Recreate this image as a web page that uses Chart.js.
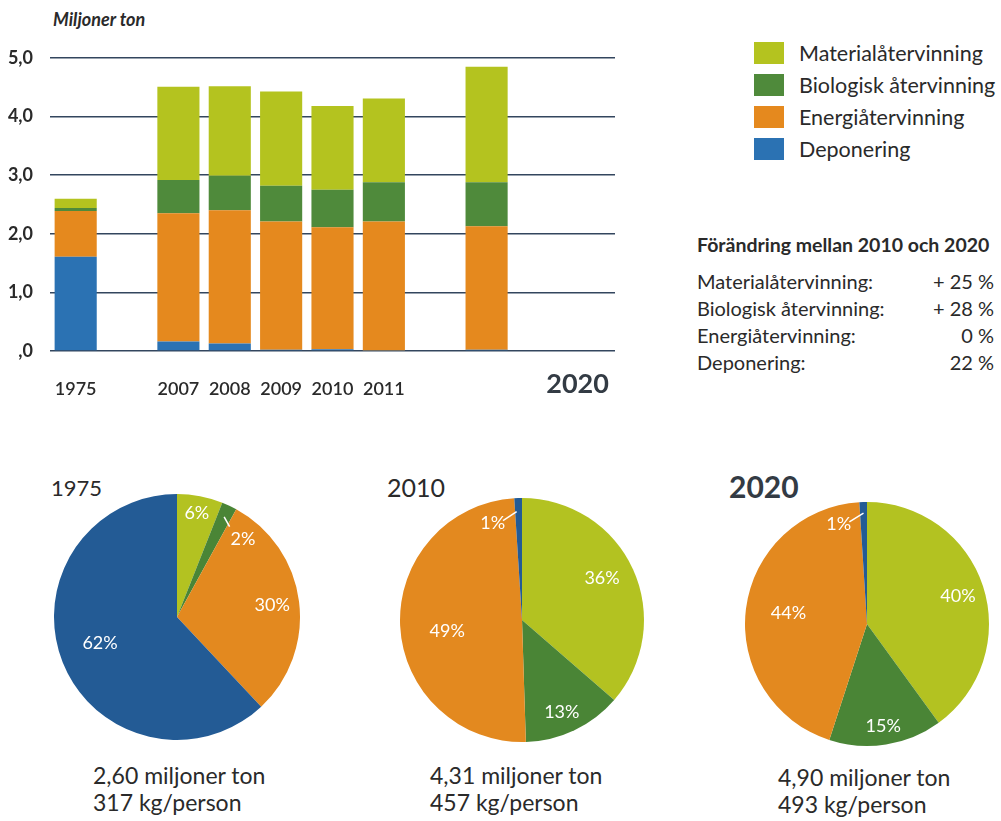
<!DOCTYPE html>
<html>
<head>
<meta charset="utf-8">
<script src="https://cdn.jsdelivr.net/npm/chart.js@4.4.1/dist/chart.umd.min.js"></script>
<style>
  body { margin: 0; background: #fff; font-family: Lato, sans-serif; color: #2a2a2a; }
  #page { position: relative; width: 1001px; height: 821px; overflow: hidden; }
  .abs { position: absolute; }
  #unit { left: 53px; top: 8px; font-size: 18px; font-weight: bold; font-style: italic; }
  #legend { left: 754px; top: 37px; }
  .leg-row { display: flex; align-items: center; height: 32px; }
  .leg-box { width: 30px; height: 22px; margin-right: 15px; }
  .leg-row span { font-size: 21.5px; }
  #change { left: 697px; top: 233px; width: 297px; }
  #change .head { font-size: 19.5px; font-weight: bold; height: 36px; }
  #change .row { display: flex; justify-content: space-between; font-size: 20px; height: 27px; }
  .pie-title { font-size: 22px; }
  .caption { font-size: 23px; line-height: 27px; }
</style>
</head>
<body>
<div id="page">
  <div id="unit" class="abs">Miljoner ton</div>
  <div class="abs" style="left:0; top:0; width:640px; height:412px;"><canvas id="barChart"></canvas></div>
  <div id="legend" class="abs"></div>
  <div id="change" class="abs"></div>

  <div class="abs pie-title" style="left:51px; top:474px;">1975</div>
  <div class="abs pie-title" style="left:387px; top:472px; font-size:25px;">2010</div>
  <div class="abs pie-title" style="left:729px; top:468px; font-size:30px; font-weight:bold; color:#333b44;">2020</div>
  <div class="abs" style="left:52px; top:492px; width:250px; height:250px;"><canvas id="pie1975"></canvas></div>
  <div class="abs" style="left:397px; top:495px; width:250px; height:250px;"><canvas id="pie2010"></canvas></div>
  <div class="abs" style="left:742px; top:499px; width:250px; height:250px;"><canvas id="pie2020"></canvas></div>

  <div class="abs caption" id="cap0" style="left:93px; top:762px;"></div>
  <div class="abs caption" id="cap1" style="left:430px; top:762px;"></div>
  <div class="abs caption" id="cap2" style="left:778px; top:764px;"></div>
</div>

<script>
// stapeldiagram: miljoner ton per behandlingsmetod
const years = ['1975', '', '2007', '2008', '2009', '2010', '2011', '', '2020', '', ''];
const seriesNames = ['Materialåtervinning', 'Biologisk återvinning', 'Energiåtervinning', 'Deponering'];
const material   = [0.16, null, 1.59, 1.53, 1.61, 1.43, 1.43, null, 1.97, null, null];
const biologisk  = [0.05, null, 0.57, 0.59, 0.61, 0.64, 0.67, null, 0.75, null, null];
const energi     = [0.78, null, 2.19, 2.27, 2.19, 2.08, 2.20, null, 2.11, null, null];
const deponering = [1.61, null, 0.16, 0.13, 0.02, 0.03, 0.01, null, 0.02, null, null];
const yTicks = [0, 1, 2, 3, 4, 5];

// cirkeldiagram (procent)
const pieYears = ['1975', '2010', '2020'];
const pie1975 = [6, 2, 30, 62];
const pie2010 = [36, 13, 49, 1];
const pie2020 = [40, 15, 44, 1];
const totals = ['2,60 miljoner ton', '4,31 miljoner ton', '4,90 miljoner ton'];
const perPerson = ['317 kg/person', '457 kg/person', '493 kg/person'];

// förändring 2010-2020
const changeTitle = 'Förändring mellan 2010 och 2020';
const changeValues = ['+ 25 %', '+ 28 %', '0 %', '22 %'];

const barColors = ['#b4c31f', '#4f8a3b', '#e5891e', '#2b72b3'];
const pieColors = ['#b3c221', '#4a8536', '#e3891f', '#235b95'];
const forecastIndex = 8;

// legend + tabell
let legendHtml = '';
seriesNames.forEach((name, i) => {
    legendHtml += '<div class="leg-row"><div class="leg-box" style="background:' + barColors[i] + '"></div><span>' + name + '</span></div>';
});
document.getElementById('legend').innerHTML = legendHtml;

let changeHtml = '<div class="head">' + changeTitle + '</div>';
seriesNames.forEach((name, i) => {
    changeHtml += '<div class="row"><span>' + name + ':</span><span>' + changeValues[i] + '</span></div>';
});
document.getElementById('change').innerHTML = changeHtml;

totals.forEach((t, i) => {
    document.getElementById('cap' + i).innerHTML = t + '<br>' + perPerson[i];
});

Chart.defaults.font.family = 'Lato, sans-serif';
Chart.defaults.color = '#2a2a2a';

// prognosåret (2020) skrivs större och till höger om stapeln
const forecastLabel = {
    id: 'forecastLabel',
    afterDraw(chart) {
        const x = chart.scales.x;
        const ctx = chart.ctx;
        ctx.save();
        ctx.font = 'bold 27px Lato, sans-serif';
        ctx.fillStyle = '#333b44';
        ctx.textAlign = 'center';
        ctx.textBaseline = 'middle';
        ctx.fillText(years[forecastIndex], x.getPixelForValue(forecastIndex) + 91, chart.chartArea.bottom + 33);
        ctx.restore();
    }
};

new Chart(document.getElementById('barChart'), {
    type: 'bar',
    data: {
        labels: years,
        datasets: [
            { label: seriesNames[3], data: deponering, backgroundColor: barColors[3] },
            { label: seriesNames[2], data: energi, backgroundColor: barColors[2] },
            { label: seriesNames[1], data: biologisk, backgroundColor: barColors[1] },
            { label: seriesNames[0], data: material, backgroundColor: barColors[0] }
        ]
    },
    options: {
        responsive: true,
        maintainAspectRatio: false,
        animation: false,
        layout: { padding: { top: 58, right: 25, bottom: 0, left: 0 } },
        datasets: { bar: { barPercentage: 0.82, categoryPercentage: 1 } },
        plugins: { legend: { display: false }, tooltip: { enabled: false } },
        scales: {
            x: {
                stacked: true,
                grid: { display: false },
                border: { display: false },
                ticks: {
                    padding: 19,
                    maxRotation: 0,
                    autoSkip: false,
                    font: { size: 18, weight: '600' },
                    callback: (v, i) => i === forecastIndex ? '' : years[i]
                },
                afterFit: s => { s.height = 61; }
            },
            y: {
                stacked: true,
                min: 0,
                max: 5,
                afterBuildTicks: s => { s.ticks = yTicks.map(v => ({ value: v })); },
                grid: { color: '#33465e', lineWidth: 1.6, drawTicks: false },
                border: { display: false },
                ticks: {
                    padding: 17,
                    font: { size: 18, weight: 'bold' },
                    callback: v => v === 0 ? ',0' : v.toFixed(1).replace('.', ',')
                },
                afterFit: s => { s.width = 50; }
            }
        }
    },
    plugins: [forecastLabel]
});

// procentetiketter inne i tårtbitarna
const sliceLabels = {
    id: 'sliceLabels',
    afterDatasetsDraw(chart, args, opts) {
        const ctx = chart.ctx;
        const values = chart.data.datasets[0].data;
        chart.getDatasetMeta(0).data.forEach((arc, i) => {
            const p = opts.places[i];
            const mid = (arc.startAngle + arc.endAngle) / 2;
            const at = (da, r) => {
                const a = mid + da * Math.PI / 180;
                return [arc.x + Math.cos(a) * arc.outerRadius * r, arc.y + Math.sin(a) * arc.outerRadius * r];
            };
            ctx.save();
            ctx.strokeStyle = '#fff';
            ctx.fillStyle = '#fff';
            if (p.lead) {
                const a = at(p.lead[0], p.lead[1]);
                const b = at(p.lead[2], p.lead[3]);
                ctx.lineWidth = 1.5;
                ctx.beginPath();
                ctx.moveTo(a[0], a[1]);
                ctx.lineTo(b[0], b[1]);
                ctx.stroke();
            }
            const xy = at(p.da || 0, p.r);
            ctx.font = '18px Lato, sans-serif';
            ctx.textAlign = 'center';
            ctx.textBaseline = 'middle';
            ctx.fillText(values[i] + '%', xy[0], xy[1]);
            ctx.restore();
        });
    }
};

function makePie(id, values, pad, places) {
    new Chart(document.getElementById(id), {
        type: 'pie',
        data: {
            labels: seriesNames,
            datasets: [{ data: values, backgroundColor: pieColors, borderWidth: 0 }]
        },
        options: {
            responsive: true,
            maintainAspectRatio: false,
            animation: false,
            layout: { padding: pad },
            plugins: {
                legend: { display: false },
                tooltip: { enabled: false },
                sliceLabels: { places: places }
            }
        },
        plugins: [sliceLabels]
    });
}

makePie('pie1975', pie1975, 2, [
    { r: 0.86 },
    { r: 0.83, da: 15, lead: [0, 0.9, 5, 0.85] },
    { r: 0.78 },
    { r: 0.66, da: 3 }
]);
makePie('pie2010', pie2010, 3, [
    { r: 0.74, da: -3 },
    { r: 0.82, da: 2 },
    { r: 0.62, da: -6 },
    { r: 0.83, da: -15, lead: [-1, 0.89, -9, 0.83] }
]);
makePie('pie2020', pie2020, 3, [
    { r: 0.78, da: 1 },
    { r: 0.85 },
    { r: 0.65, da: 1 },
    { r: 0.85, da: -14, lead: [0, 0.91, -8, 0.85] }
]);
</script>
</body>
</html>
